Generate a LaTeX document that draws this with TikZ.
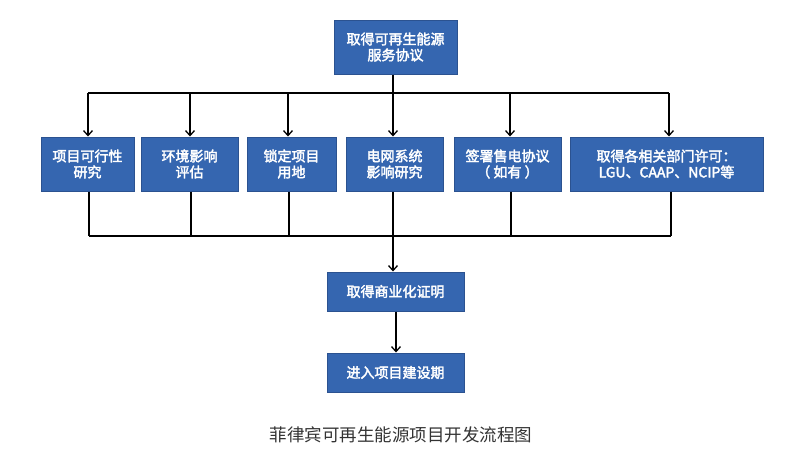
\documentclass[tikz,border=0pt]{standalone}
\usepackage{fontspec}
\setmainfont{Noto Sans CJK SC}[AutoFakeBold=2.5]
\usetikzlibrary{arrows.meta}
\definecolor{boxblue}{HTML}{3566B0}
\definecolor{boxedge}{HTML}{2B5290}
\definecolor{captiongray}{HTML}{333333}
\begin{document}
\begin{tikzpicture}[x=1pt,y=-1pt,
  box/.style={draw=boxedge,line width=1pt,fill=boxblue,text=white,font=\fontsize{14}{16}\selectfont\bfseries,align=center,inner sep=0pt},
  conn/.style={line width=1.3pt,black},
  arr/.style={conn,-{Straight Barb[length=5pt,width=9pt,line width=1.3pt]}}]
\useasboundingbox (0,0) rectangle (800,467);
% boxes
\node[box,minimum width=123pt,minimum height=54pt] (top) at (395.5,47) {取得可再生能源\\服务协议};
\node[box,minimum width=93pt,minimum height=54pt] (b1) at (87.5,164) {项目可行性\\研究};
\node[box,minimum width=97pt,minimum height=54pt] (b2) at (189.5,164) {环境影响\\评估};
\node[box,minimum width=89pt,minimum height=54pt] (b3) at (291.5,164) {锁定项目\\用地};
\node[box,minimum width=97pt,minimum height=54pt] (b4) at (394.5,164) {电网系统\\影响研究};
\node[box,minimum width=107pt,minimum height=54pt] (b5) at (507.5,164) {签署售电协议\\（ 如有 ）};
\node[box,minimum width=193pt,minimum height=54pt] (b6) at (666.5,164) {取得各相关部门许可：\\LGU、CAAP、NCIP等};
\node[box,minimum width=137pt,minimum height=39pt] (b7) at (395.5,291.5) {取得商业化证明};
\node[box,minimum width=137pt,minimum height=39pt] (b8) at (395.5,372.5) {进入项目建设期};
\node[text=captiongray,font=\fontsize{17.5}{20}\selectfont] (cap) at (401,435) {菲律宾可再生能源项目开发流程图};
% coordinates
\coordinate (sp) at (393,93);
\coordinate (hl) at (88,93);
\coordinate (hr) at (669,93);
\coordinate (jl) at (89,236);
\coordinate (jr) at (671,236);
\coordinate (jm) at (393,236);
% top split
\draw[conn] (top.south -| sp) -- (sp);
\draw[conn] (hl) -- (hr);
\draw[arr] (hl) -- (b1.north -| hl);
\draw[arr] (190,93) -- (b2.north -| 190,0);
\draw[arr] (288,93) -- (b3.north -| 288,0);
\draw[arr] (sp) -- (b4.north -| sp);
\draw[arr] (510,93) -- (b5.north -| 510,0);
\draw[arr] (hr) -- (b6.north -| hr);
% bottom join
\draw[conn] (b1.south -| jl) -- (jl);
\draw[conn] (b2.south -| 191,0) -- (191,236);
\draw[conn] (b3.south -| 289,0) -- (289,236);
\draw[conn] (b4.south -| jm) -- (jm);
\draw[conn] (b5.south -| 511,0) -- (511,236);
\draw[conn] (b6.south -| jr) -- (jr);
\draw[conn] (jl) -- (jr);
\draw[arr] (jm) -- (b7.north -| jm);
\draw[arr] (b7.south -| 396,0) -- (b8.north -| 396,0);
\end{tikzpicture}
\end{document}
